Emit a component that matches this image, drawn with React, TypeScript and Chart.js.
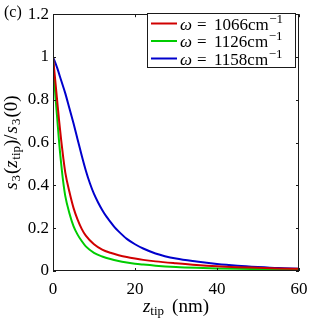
import React, { useEffect, useRef } from "react";
import { Chart, registerables } from "chart.js";

Chart.register(...registerables);

// z_tip (nm) grid and normalized s3 values
const zRed = [0, 0.5, 1, 1.5, 2, 2.5, 3, 4, 5, 6, 7, 8, 10, 12, 14, 16, 18, 20, 22, 25, 30, 35, 40, 45, 50, 55, 60];
const sRed = [1.0, 0.9, 0.8, 0.7, 0.61, 0.53, 0.46, 0.37, 0.295, 0.24, 0.197, 0.165, 0.125, 0.1, 0.085, 0.074, 0.065, 0.058, 0.052, 0.045, 0.036, 0.028, 0.022, 0.018, 0.015, 0.012, 0.01];

const zGreen = [0, 0.5, 1, 1.5, 2, 2.5, 3, 4, 5, 6, 7, 8, 10, 12, 14, 16, 18, 20, 22, 25, 30, 35, 40, 45, 50, 55, 60];
const sGreen = [1.0, 0.84, 0.72, 0.6, 0.5, 0.415, 0.35, 0.27, 0.21, 0.17, 0.14, 0.115, 0.085, 0.068, 0.056, 0.047, 0.04, 0.034, 0.03, 0.025, 0.019, 0.015, 0.012, 0.01, 0.009, 0.008, 0.007];

const zBlue = [0, 1, 2, 3, 4, 5, 6, 7, 8, 9, 10, 11, 12, 13, 14, 15, 16, 18, 20, 22, 25, 30, 35, 40, 45, 50, 55, 60];
const sBlue = [1.0, 0.95, 0.89, 0.83, 0.76, 0.69, 0.615, 0.54, 0.47, 0.41, 0.36, 0.32, 0.285, 0.255, 0.23, 0.205, 0.185, 0.15, 0.125, 0.105, 0.082, 0.058, 0.044, 0.033, 0.025, 0.019, 0.014, 0.011];

const omegaLabels = ["1066", "1126", "1158"];
const xTicks = [0, 20, 40, 60];
const yTicks = [0, 0.2, 0.4, 0.6, 0.8, 1, 1.2];

const SERIF = "'Liberation Serif', 'Times New Roman', serif";
const LINE_COLORS = ["#d00000", "#00cc00", "#0000cc"];

type Piece = { t: string; font: string; dy?: number; gap?: number };

function richWidth(ctx: CanvasRenderingContext2D, pieces: Piece[]) {
  let w = 0;
  for (const p of pieces) {
    ctx.font = p.font;
    w += ctx.measureText(p.t).width + (p.gap || 0);
  }
  return w;
}

function drawRich(ctx: CanvasRenderingContext2D, pieces: Piece[], x: number, y: number) {
  let cx = x;
  for (const p of pieces) {
    ctx.font = p.font;
    ctx.fillText(p.t, cx, y + (p.dy || 0));
    cx += ctx.measureText(p.t).width + (p.gap || 0);
  }
}

const decorPlugin = {
  id: "decor",
  afterDatasetsDraw(chart: any) {
    const ctx: CanvasRenderingContext2D = chart.ctx;
    const { left, right, top, bottom } = chart.chartArea;
    const xs = chart.scales.x;
    const ys = chart.scales.y;
    ctx.save();
    // box
    ctx.strokeStyle = "#1a1a1a";
    ctx.lineWidth = 1;
    ctx.strokeRect(Math.round(left) + 0.5, Math.round(top) + 0.5, Math.round(right - left) - 1, Math.round(bottom - top) - 1);
    // inward ticks
    const tl = 3;
    ctx.beginPath();
    for (const v of xTicks) {
      const px = Math.round(xs.getPixelForValue(v)) + 0.5;
      ctx.moveTo(px, bottom);
      ctx.lineTo(px, bottom - tl);
      ctx.moveTo(px, top);
      ctx.lineTo(px, top + tl);
    }
    for (const v of yTicks) {
      const py = Math.round(ys.getPixelForValue(v)) + 0.5;
      ctx.moveTo(left, py);
      ctx.lineTo(left + tl, py);
      ctx.moveTo(right, py);
      ctx.lineTo(right - tl, py);
    }
    ctx.stroke();

    // legend
    const lx = 147, ly = 13, lw = 148, lh = 54;
    ctx.fillStyle = "#ffffff";
    ctx.fillRect(lx, ly, lw, lh);
    ctx.strokeStyle = "#1a1a1a";
    ctx.strokeRect(lx + 0.5, ly + 0.5, lw, lh);
    const rows = [23.5, 41, 58.5];
    ctx.textBaseline = "alphabetic";
    ctx.textAlign = "left";
    omegaLabels.forEach((lab, i) => {
      const y = rows[i];
      ctx.strokeStyle = LINE_COLORS[i];
      ctx.lineWidth = 2;
      ctx.beginPath();
      ctx.moveTo(151, y);
      ctx.lineTo(177, y);
      ctx.stroke();
      ctx.fillStyle = "#000";
      const by = y + 6;
      ctx.font = `italic 17px ${SERIF}`;
      ctx.fillText("ω", 180, by);
      ctx.font = `17px ${SERIF}`;
      ctx.fillText("=", 197, by);
      drawRich(
        ctx,
        [
          { t: lab + "cm", font: `17px ${SERIF}`, gap: 0.5 },
          { t: "−1", font: `13px ${SERIF}`, dy: -7 },
        ],
        214,
        by
      );
    });

    // panel label
    ctx.fillStyle = "#000";
    ctx.font = `16px ${SERIF}`;
    ctx.fillText("(c)", 4, 17);

    // x title
    const xt: Piece[] = [
      { t: "z", font: `italic 19px ${SERIF}` },
      { t: "tip", font: `13px ${SERIF}`, dy: 3, gap: 8 },
      { t: "(nm)", font: `19px ${SERIF}` },
    ];
    const xw = richWidth(ctx, xt);
    drawRich(ctx, xt, (left + right) / 2 - xw / 2, 312);

    // y title (rotated)
    const yt: Piece[] = [
      { t: "s", font: `italic 19px ${SERIF}`, gap: 1 },
      { t: "3", font: `13px ${SERIF}`, dy: 3, gap: 1 },
      { t: "(", font: `19px ${SERIF}` },
      { t: "z", font: `italic 19px ${SERIF}`, gap: 0.5 },
      { t: "tip", font: `13px ${SERIF}`, dy: 3 },
      { t: ")/", font: `19px ${SERIF}`, gap: 1 },
      { t: "s", font: `italic 19px ${SERIF}`, gap: 1 },
      { t: "3", font: `13px ${SERIF}`, dy: 3, gap: 1 },
      { t: "(0)", font: `19px ${SERIF}` },
    ];
    const yw = richWidth(ctx, yt);
    ctx.translate(17, (top + bottom) / 2);
    ctx.rotate(-Math.PI / 2);
    drawRich(ctx, yt, -yw / 2, 0);
    ctx.restore();
  },
};

export default function App() {
  const ref = useRef<HTMLCanvasElement | null>(null);
  useEffect(() => {
    if (!ref.current) return;
    const mk = (zs: number[], ss: number[]) => zs.map((z, i) => ({ x: z, y: ss[i] }));
    const chart = new Chart(ref.current, {
      type: "line",
      data: {
        datasets: [
          { data: mk(zRed, sRed), borderColor: LINE_COLORS[0] },
          { data: mk(zGreen, sGreen), borderColor: LINE_COLORS[1] },
          { data: mk(zBlue, sBlue), borderColor: LINE_COLORS[2] },
        ].map((d) => ({
          ...d,
          borderWidth: 2,
          pointRadius: 0,
          fill: false,
          cubicInterpolationMode: "monotone" as const,
        })),
      },
      options: {
        animation: false,
        responsive: false,
        maintainAspectRatio: false,
        layout: { padding: { top: 10, right: 20, left: 0, bottom: 0 } },
        plugins: { legend: { display: false }, tooltip: { enabled: false } },
        scales: {
          x: {
            type: "linear",
            min: 0,
            max: 60,
            grid: { display: false, drawTicks: false },
            border: { display: false },
            afterBuildTicks: (s: any) => {
              s.ticks = xTicks.map((v) => ({ value: v }));
            },
            afterFit: (s: any) => {
              s.height = 48;
            },
            ticks: {
              padding: 8,
              color: "#000",
              font: { family: SERIF, size: 17 },
              maxRotation: 0,
              callback: (v: any) => String(v),
            },
          },
          y: {
            type: "linear",
            min: 0,
            max: 1.2,
            grid: { display: false, drawTicks: false },
            border: { display: false },
            afterBuildTicks: (s: any) => {
              s.ticks = yTicks.map((v) => ({ value: v }));
            },
            afterFit: (s: any) => {
              s.width = 53;
            },
            ticks: {
              padding: 4,
              color: "#000",
              font: { family: SERIF, size: 17 },
              callback: (v: any) => String(Math.round(v * 10) / 10),
            },
          },
        },
      },
      plugins: [decorPlugin],
    });
    return () => chart.destroy();
  }, []);
  return (
    <div style={{ position: "absolute", left: 0, top: 0, width: 319, height: 319, background: "#fff" }}>
      <canvas ref={ref} width={319} height={319} style={{ width: 319, height: 319, display: "block" }} />
    </div>
  );
}
